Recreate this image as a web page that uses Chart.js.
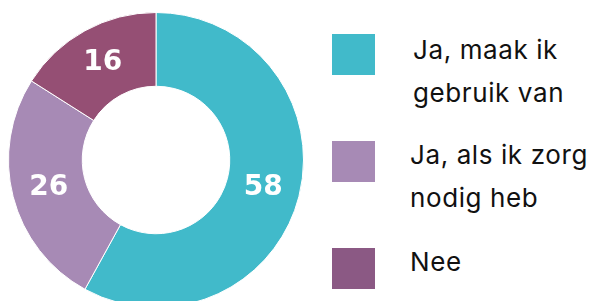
<!DOCTYPE html>
<html>
<head>
<meta charset="utf-8">
<script src="https://cdn.jsdelivr.net/npm/chart.js@4.4.0/dist/chart.umd.min.js"></script>
<style>
  html, body { margin: 0; padding: 0; width: 595px; height: 301px; overflow: hidden; background: #fff; }
  #wrap { position: absolute; left: 0; top: 0; width: 312px; height: 320px; }
  .sw { position: absolute; left: 332px; width: 43px; height: 41px; }
  .lt { position: absolute; left: 411px; font-family: Inter, "Liberation Sans", sans-serif; font-weight: 400; font-size: 26px; line-height: 43px; color: #111; letter-spacing: 0.6px; white-space: nowrap; }
</style>
</head>
<body>
<div id="wrap"><canvas id="c" width="312" height="320"></canvas></div>
<div id="legend"></div>
<script>
const categories = ["Ja, maak ik gebruik van", "Ja, als ik zorg nodig heb", "Nee"];
const legendLines = [["Ja, maak ik", "gebruik van"], ["Ja, als ik zorg", "nodig heb"], ["Nee"]];
const values = [58, 26, 16];
const sliceColors = ["#41BACA", "#A78AB5", "#954F74"];
const legendColors = ["#41BACA", "#A78AB5", "#8B5984"];

// legend (HTML)
const legendTops = [34, 141, 248];
const legendTextTops = [28, 133, 240];
const legend = document.getElementById('legend');
categories.forEach((c, i) => {
  const sw = document.createElement('div');
  sw.className = 'sw';
  sw.style.top = legendTops[i] + 'px';
  sw.style.background = legendColors[i];
  legend.appendChild(sw);
  const t = document.createElement('div');
  t.className = 'lt';
  t.style.top = legendTextTops[i] + 'px';
  t.style.left = (i === 0 ? 413 : 410) + 'px';
  t.innerHTML = legendLines[i].join('<br>');
  legend.appendChild(t);
});

const valueLabels = {
  id: 'valueLabels',
  afterDatasetsDraw(chart) {
    const ctx = chart.ctx;
    const meta = chart.getDatasetMeta(0);
    ctx.save();
    ctx.fillStyle = '#fff';
    ctx.font = 'bold 28px "DejaVu Sans", sans-serif';
    ctx.textAlign = 'center';
    ctx.textBaseline = 'middle';
    meta.data.forEach((arc, i) => {
      const p = arc.tooltipPosition();
      ctx.fillText(String(chart.data.datasets[0].data[i]), p.x, p.y);
    });
    ctx.restore();
  }
};

new Chart(document.getElementById('c'), {
  type: 'doughnut',
  data: {
    labels: categories,
    datasets: [{
      data: values,
      backgroundColor: sliceColors,
      borderColor: '#ffffff',
      borderWidth: 1
    }]
  },
  options: {
    responsive: false,
    animation: false,
    cutout: '50%',
    layout: { padding: 8 },
    plugins: { legend: { display: false }, tooltip: { enabled: false } }
  },
  plugins: [valueLabels]
});
</script>
</body>
</html>
